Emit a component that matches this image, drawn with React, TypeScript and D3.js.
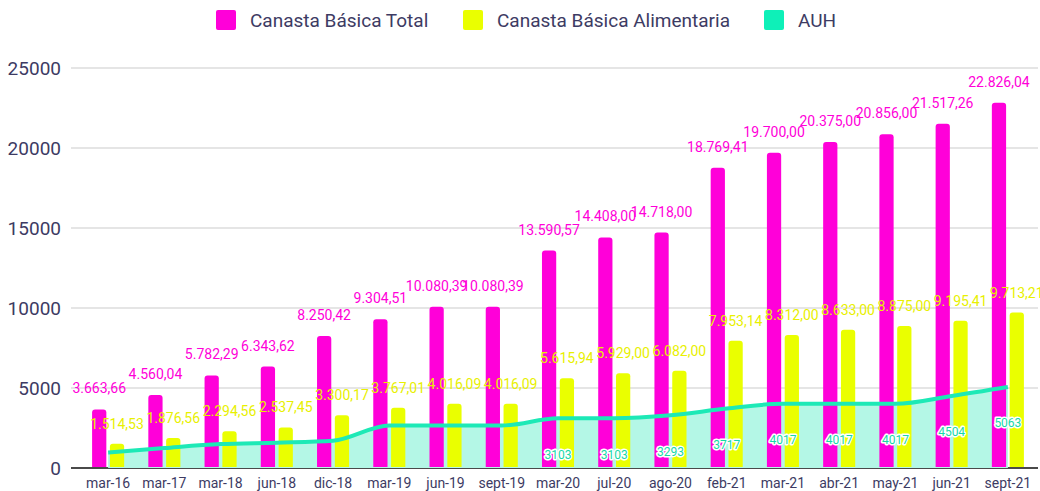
import React, { useEffect, useRef } from 'react';
import * as d3 from 'd3';

const periods = ['mar-16', 'mar-17', 'mar-18', 'jun-18', 'dic-18', 'mar-19', 'jun-19', 'sept-19', 'mar-20', 'jul-20', 'ago-20', 'feb-21', 'mar-21', 'abr-21', 'may-21', 'jun-21', 'sept-21'];
const canastaTotal = [3663.66, 4560.04, 5782.29, 6343.62, 8250.42, 9304.51, 10080.39, 10080.39, 13590.57, 14408.0, 14718.0, 18769.41, 19700.0, 20375.0, 20856.0, 21517.26, 22826.04];
const canastaAlimentaria = [1514.53, 1876.56, 2294.56, 2537.45, 3300.17, 3767.01, 4016.09, 4016.09, 5615.94, 5929.0, 6082.0, 7953.14, 8312.0, 8633.0, 8875.0, 9195.41, 9713.21];
const auh = [966, 1246, 1493, 1578, 1700, 2652, 2652, 2652, 3103, 3103, 3293, 3717, 4017, 4017, 4017, 4504, 5063];
// AUH labels only show from mar-20 on
const auhLabelShown = [false, false, false, false, false, false, false, false, true, true, true, true, true, true, true, true, true];
const yTicks = [0, 5000, 10000, 15000, 20000, 25000];
const legendItems = ['Canasta Básica Total', 'Canasta Básica Alimentaria', 'AUH'];

const PINK = '#ff00d9';
const YELLOW = '#eaff00';
const TEAL = '#1de9b6';
const AREA = '#b4f7e6';
const TEXT = '#3d3b63';

const App = () => {
  const svgRef = useRef(null);

  useEffect(() => {
    const svg = d3.select(svgRef.current);
    const width = 1040;
    const height = 491;
    const margin = { top: 68, right: 4, bottom: 23, left: 80 };
    const font = 'Roboto, sans-serif';

    const locale = d3.formatLocale({ decimal: ',', thousands: '.', grouping: [3], currency: ['$', ''] });
    const fmt = locale.format(',.2f');

    const x = d3.scaleBand().domain(periods).range([margin.left, width - margin.right]).paddingInner(0.43).paddingOuter(0.215);
    const xInner = d3.scaleBand().domain(['total', 'alim']).range([0, x.bandwidth()]).paddingInner(0.2);
    const y = d3.scaleLinear().domain([0, 25000]).range([height - margin.bottom, margin.top]);
    const cx = (p) => x(p) + x.bandwidth() / 2;

    // gridlines
    svg.append('g')
      .selectAll('line')
      .data(yTicks)
      .enter()
      .append('line')
      .attr('x1', 71)
      .attr('x2', width - 2)
      .attr('y1', (d) => y(d))
      .attr('y2', (d) => y(d))
      .attr('stroke', (d) => (d === 0 ? '#4a4a4a' : '#cccccc'))
      .attr('stroke-width', (d) => (d === 0 ? 2 : 1.2));

    // y labels
    svg.append('g')
      .selectAll('text')
      .data(yTicks)
      .enter()
      .append('text')
      .attr('x', 61)
      .attr('y', (d) => y(d))
      .attr('dy', '0.35em')
      .attr('text-anchor', 'end')
      .attr('font-family', font)
      .attr('font-size', 19)
      .attr('fill', TEXT)
      .text((d) => d);

    // AUH area
    const area = d3.area()
      .x((d, i) => cx(periods[i]))
      .y0(y(0))
      .y1((d) => y(d))
      .curve(d3.curveMonotoneX);
    svg.append('path').attr('d', area(auh)).attr('fill', AREA);

    // rounded top bars
    const barPath = (x0, w, top, bottom) => {
      const r = Math.min(3, w / 2, bottom - top);
      return `M${x0},${bottom}V${top + r}Q${x0},${top} ${x0 + r},${top}H${x0 + w - r}Q${x0 + w},${top} ${x0 + w},${top + r}V${bottom}Z`;
    };

    const seriesList = [
      { key: 'total', values: canastaTotal, color: PINK },
      { key: 'alim', values: canastaAlimentaria, color: YELLOW },
    ];

    seriesList.forEach((s) => {
      svg.append('g')
        .selectAll('path')
        .data(s.values)
        .enter()
        .append('path')
        .attr('d', (d, i) => barPath(x(periods[i]) + xInner(s.key), xInner.bandwidth(), y(d), y(0) - 1))
        .attr('fill', s.color);
    });

    // AUH line
    const line = d3.line()
      .x((d, i) => cx(periods[i]))
      .y((d) => y(d))
      .curve(d3.curveMonotoneX);
    svg.append('path')
      .attr('d', line(auh))
      .attr('fill', 'none')
      .attr('stroke', TEAL)
      .attr('stroke-width', 4);

    // value labels
    svg.append('g')
      .selectAll('text')
      .data(canastaTotal)
      .enter()
      .append('text')
      .attr('x', (d, i) => x(periods[i]) + xInner('total') + xInner.bandwidth() / 2)
      .attr('y', (d) => y(d) - 16)
      .attr('text-anchor', 'middle')
      .attr('font-family', font)
      .attr('font-size', 14)
      .attr('fill', PINK)
      .text((d) => fmt(d));

    svg.append('g')
      .selectAll('text')
      .data(canastaAlimentaria)
      .enter()
      .append('text')
      .attr('x', (d, i) => x(periods[i]) + xInner('alim') + xInner.bandwidth() / 2)
      .attr('y', (d) => y(d) - 15)
      .attr('text-anchor', 'middle')
      .attr('font-family', font)
      .attr('font-size', 14)
      .attr('fill', '#e8f000')
      .text((d) => fmt(d));

    const auhLabels = auh
      .map((v, i) => ({ v, p: periods[i], shown: auhLabelShown[i] }))
      .filter((d) => d.shown);

    svg.append('g')
      .selectAll('text')
      .data(auhLabels)
      .enter()
      .append('text')
      .attr('x', (d) => cx(d.p))
      .attr('y', (d) => y(d.v) + 36)
      .attr('dy', '0.35em')
      .attr('text-anchor', 'middle')
      .attr('font-family', font)
      .attr('font-size', 12)
      .attr('fill', '#16d9a8')
      .attr('stroke', 'white')
      .attr('stroke-width', 3)
      .attr('stroke-linejoin', 'round')
      .attr('paint-order', 'stroke')
      .text((d) => d.v);

    // x labels
    svg.append('g')
      .selectAll('text')
      .data(periods)
      .enter()
      .append('text')
      .attr('x', (d) => cx(d))
      .attr('y', 483)
      .attr('dy', '0.35em')
      .attr('text-anchor', 'middle')
      .attr('font-family', font)
      .attr('font-size', 14)
      .attr('fill', TEXT)
      .text((d) => d);

    // legend
    const legendX = [216, 463, 764];
    const legendColors = [PINK, YELLOW, '#0ef0b8'];
    const lg = svg.append('g');
    legendItems.forEach((name, i) => {
      lg.append('rect')
        .attr('x', legendX[i])
        .attr('y', 10)
        .attr('width', 20)
        .attr('height', 20)
        .attr('rx', 2)
        .attr('fill', legendColors[i]);
      lg.append('text')
        .attr('x', legendX[i] + 34)
        .attr('y', 20)
        .attr('dy', '0.35em')
        .attr('font-family', font)
        .attr('font-size', 19)
        .attr('fill', TEXT)
        .text(name);
    });

    return () => {
      svg.selectAll('*').remove();
    };
  }, []);

  return (
    <div style={{ position: 'absolute', left: 0, top: 0 }}>
      <svg ref={svgRef} width={1040} height={491} style={{ display: 'block', background: 'white' }}></svg>
    </div>
  );
};

export default App;
